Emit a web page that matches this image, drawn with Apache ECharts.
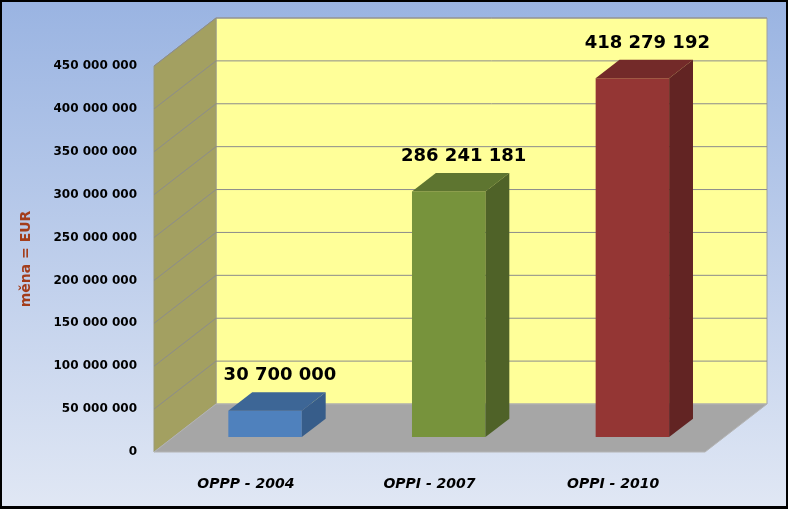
<!DOCTYPE html>
<html>
<head>
<meta charset="utf-8">
<script src="https://cdn.jsdelivr.net/npm/echarts@6/dist/echarts.min.js"></script>
<style>
  html, body { margin: 0; padding: 0; background: #000; }
  #chart { width: 788px; height: 509px; }
</style>
</head>
<body>
<div id="chart"></div>
<script>
// data
var categories = ['OPPP - 2004', 'OPPI - 2007', 'OPPI - 2010'];
var amounts = [30700000, 286241181, 418279192];
var yTicks = [0, 50000000, 100000000, 150000000, 200000000, 250000000, 300000000, 350000000, 400000000, 450000000];

// colours for each bar: front, top, side
var barColors = [
  ['#4f81bd', '#3d6696', '#375d8a'],
  ['#77933c', '#5e7530', '#4f6228'],
  ['#943634', '#732a29', '#622423']
];

// 3d depth of the floor / walls
var DX = 62, DY = -48;
var BAR_START = 0.31, BAR_DEPTH = 0.385;

function fmt(v) {
  return String(v).replace(/\B(?=(\d{3})+(?!\d))/g, ' ');
}

var chart = echarts.init(document.getElementById('chart'));

var option = {
  backgroundColor: '#000',
  animation: false,
  graphic: [{
    type: 'rect',
    z: -10,
    shape: { x: 2, y: 2, width: 784, height: 504 },
    style: {
      fill: new echarts.graphic.LinearGradient(0, 0, 0, 1, [
        { offset: 0, color: '#9ab4e2' },
        { offset: 1, color: '#e0e7f4' }
      ])
    }
  }],
  grid: { left: 154, right: 83, top: 66, bottom: 57 },
  xAxis: {
    type: 'category',
    data: categories,
    axisLine: { show: false },
    axisTick: { show: false },
    axisLabel: {
      margin: 25,
      color: '#000',
      fontFamily: 'DejaVu Sans',
      fontWeight: 'bold',
      fontStyle: 'italic',
      fontSize: 14
    }
  },
  yAxis: {
    type: 'value',
    min: 0,
    max: 450000000,
    interval: 50000000,
    name: 'měna = EUR',
    nameLocation: 'middle',
    nameRotate: 90,
    nameGap: 121,
    nameTextStyle: {
      color: '#a33d1b',
      fontFamily: 'DejaVu Sans',
      fontWeight: 'bold',
      fontSize: 14
    },
    splitLine: { show: false },
    axisLine: { show: false },
    axisTick: { show: false },
    axisLabel: {
      margin: 17,
      color: '#000',
      fontFamily: 'DejaVu Sans',
      fontWeight: 'bold',
      fontSize: 12,
      formatter: fmt
    }
  },
  series: [
    {
      // walls and floor
      type: 'custom',
      z: 1,
      silent: true,
      data: [[0, 0]],
      renderItem: function (params, api) {
        var cs = params.coordSys;
        var x0 = cs.x, y0 = cs.y + cs.height, x1 = cs.x + cs.width, yt = cs.y;
        return {
          type: 'group',
          children: [
            { type: 'polygon', shape: { points: [[x0 + DX, yt + DY], [x1 + DX, yt + DY], [x1 + DX, y0 + DY], [x0 + DX, y0 + DY]] },
              style: { fill: '#ffff99', stroke: '#a0a0a0', lineWidth: 1 } },
            { type: 'polygon', shape: { points: [[x0, yt], [x0 + DX, yt + DY], [x0 + DX, y0 + DY], [x0, y0]] },
              style: { fill: '#a3a061', stroke: '#9a9a7a', lineWidth: 1 } },
            { type: 'polygon', shape: { points: [[x0, y0], [x0 + DX, y0 + DY], [x1 + DX, y0 + DY], [x1, y0]] },
              style: { fill: '#a6a6a6', stroke: '#b4b4b4', lineWidth: 1 } }
          ]
        };
      }
    },
    {
      // grid lines on side and back wall
      type: 'custom',
      z: 2,
      silent: true,
      data: yTicks.slice(1).map(function (v) { return [0, v]; }),
      renderItem: function (params, api) {
        var cs = params.coordSys;
        var y = api.coord([0, api.value(1)])[1];
        var x0 = cs.x, x1 = cs.x + cs.width;
        return {
          type: 'polyline',
          shape: { points: [[x0, y], [x0 + DX, y + DY], [x1 + DX, y + DY]] },
          style: { stroke: '#8c8c8c', lineWidth: 1, fill: null }
        };
      }
    },
    {
      // 3d bars
      type: 'custom',
      z: 3,
      data: amounts.map(function (v, i) { return [i, v]; }),
      renderItem: function (params, api) {
        var i = api.value(0);
        var base = api.coord([i, 0]);
        var top = api.coord([i, api.value(1)]);
        var band = api.size([1, 0])[0];
        var w = band * 0.4;
        var ox = DX * BAR_START, oy = DY * BAR_START;
        var dx = DX * BAR_DEPTH, dy = DY * BAR_DEPTH;
        var l = base[0] - w / 2 + ox, r = base[0] + w / 2 + ox;
        var b = base[1] + oy, t = top[1] + oy;
        var c = barColors[i];
        return {
          type: 'group',
          children: [
            { type: 'polygon', shape: { points: [[l, t], [r, t], [r, b], [l, b]] }, style: { fill: c[0] } },
            { type: 'polygon', shape: { points: [[l, t], [l + dx, t + dy], [r + dx, t + dy], [r, t]] }, style: { fill: c[1] } },
            { type: 'polygon', shape: { points: [[r, t], [r + dx, t + dy], [r + dx, b + dy], [r, b]] }, style: { fill: c[2] } },
            { type: 'text', style: {
                x: (l + r) / 2 + dx / 2 + 3, y: t + dy - 8,
                text: fmt(api.value(1)),
                align: 'center', verticalAlign: 'bottom',
                fill: '#000', font: 'bold 18px "DejaVu Sans"'
              } }
          ]
        };
      }
    }
  ]
};

chart.setOption(option);
</script>
</body>
</html>
